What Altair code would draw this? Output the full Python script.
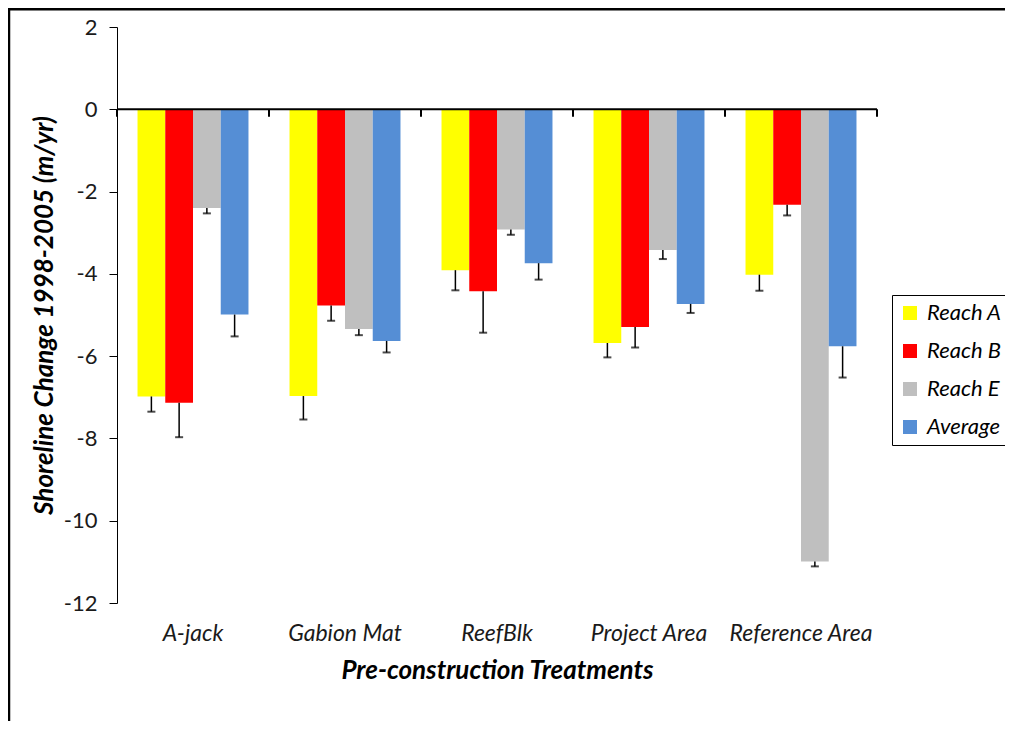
import altair as alt
import pandas as pd

categories = ["A-jack", "Gabion Mat", "ReefBlk", "Project Area", "Reference Area"]
series = ["Reach A", "Reach B", "Reach E", "Average"]
colors = ["#FFFF00", "#FF0000", "#BFBFBF", "#558ED5"]

reach_a = [-6.98, -6.97, -3.91, -5.68, -4.02]
reach_a_err = [0.37, 0.57, 0.49, 0.35, 0.39]
reach_b = [-7.13, -4.77, -4.42, -5.29, -2.32]
reach_b_err = [0.84, 0.37, 1.01, 0.50, 0.26]
reach_e = [-2.40, -5.34, -2.92, -3.42, -10.99]
reach_e_err = [0.13, 0.15, 0.13, 0.22, 0.12]
average = [-4.99, -5.63, -3.74, -4.73, -5.76]
average_err = [0.53, 0.28, 0.40, 0.22, 0.76]

y_ticks = [2, 0, -2, -4, -6, -8, -10, -12]
boundaries = [0, 1, 2, 3, 4, 5]

vals = [reach_a, reach_b, reach_e, average]
errs = [reach_a_err, reach_b_err, reach_e_err, average_err]
rows = []
for s, v, e in zip(series, vals, errs):
    for c, vv, ee in zip(categories, v, e):
        rows.append({"category": c, "series": s, "value": vv, "low": vv - ee})
df = pd.DataFrame(rows)

FONT = "Lato"
yscale = alt.Scale(domain=[-12, 2], nice=False, zero=False)
xscale = alt.Scale(domain=categories, paddingInner=0.27, paddingOuter=0.135)
offscale = alt.Scale(domain=series, paddingInner=0, paddingOuter=0)

xaxis = alt.Axis(
    orient="bottom", domain=False, ticks=False, labelAngle=0,
    labelFont=FONT, labelFontSize=23, labelFontStyle="italic", labelColor="#1a1a1a",
    labelPadding=19, title="Pre-construction Treatments", titleFont=FONT,
    titleFontSize=26, titleFontWeight="bold", titleFontStyle="italic",
    titleColor="#000000", titlePadding=12,
)
yaxis = alt.Axis(
    values=y_ticks, grid=False, domainColor="#000000", domainWidth=1,
    tickColor="#000000", tickSize=8, tickWidth=1,
    labelFont=FONT, labelFontSize=22, labelColor="#1a1a1a", labelPadding=12,
    labelExpr="'' + datum.value",
    title="Shoreline Change 1998-2005 (m/yr)", titleFont=FONT, titleFontSize=26,
    titleFontWeight="bold", titleFontStyle="italic", titleColor="#000000",
    titlePadding=6,
)

base = alt.Chart(df)
xenc = alt.X("category:N", sort=categories, scale=xscale, axis=xaxis)
offenc = alt.XOffset("series:N", sort=series, scale=offscale)

bars = base.mark_bar().encode(
    x=xenc,
    xOffset=offenc,
    y=alt.Y("value:Q", scale=yscale, axis=yaxis),
    color=alt.Color(
        "series:N", sort=series,
        scale=alt.Scale(domain=series, range=colors),
        legend=alt.Legend(
            title=None, orient="none", legendX=775, legendY=268,
            strokeColor="#000000", fillColor="#ffffff", padding=7,
            symbolType="square", symbolSize=196, symbolStrokeWidth=0,
            labelFont=FONT, labelFontSize=22, labelFontStyle="italic",
            labelColor="#000000", rowPadding=16, labelOffset=6,
        ),
    ),
)

err_rules = base.mark_rule(color="#000000", strokeWidth=1.5).encode(
    x=xenc, xOffset=offenc,
    y=alt.Y("value:Q", scale=yscale),
    y2="low:Q",
)
caps = base.mark_tick(color="#000000", size=8, thickness=2, orient="horizontal").encode(
    x=xenc, xOffset=offenc,
    y=alt.Y("low:Q", scale=yscale),
)

bscale = alt.Scale(domain=[0, 5], nice=False, zero=False)
one = pd.DataFrame({"k": [0]})
zero_line = alt.Chart(one).mark_rule(color="#000000", strokeWidth=2).encode(
    x=alt.X(datum=0, scale=bscale, axis=None),
    x2=alt.X2(datum=5),
    y=alt.Y(datum=0, scale=yscale),
)
bticks = alt.Chart(pd.DataFrame({"b": boundaries})).mark_rule(color="#000000", strokeWidth=2).encode(
    x=alt.X("b:Q", scale=bscale, axis=None),
    y=alt.Y(datum=0, scale=yscale),
    y2=alt.Y2(datum=-0.18),
)
frame_top = alt.Chart(one).mark_rule(color="#000000", strokeWidth=3).encode(
    x=alt.value(-109), x2=alt.value(888), y=alt.value(-18),
)
frame_left = alt.Chart(one).mark_rule(color="#000000", strokeWidth=2.5).encode(
    x=alt.value(-108), y=alt.value(-19), y2=alt.value(694),
)

inner_bars = alt.layer(bars, err_rules, caps)
inner_lines = alt.layer(zero_line, bticks, frame_top, frame_left)

chart = alt.layer(inner_bars, inner_lines).resolve_scale(x="independent").properties(
    width=760, height=576,
    autosize=alt.AutoSizeParams(type="none"),
    padding={"left": 109, "top": 19, "right": 128, "bottom": 118},
).configure(font=FONT).configure_view(stroke="transparent", strokeWidth=0)

chart.save("out.html", embed_options={"renderer": "svg", "actions": False})
